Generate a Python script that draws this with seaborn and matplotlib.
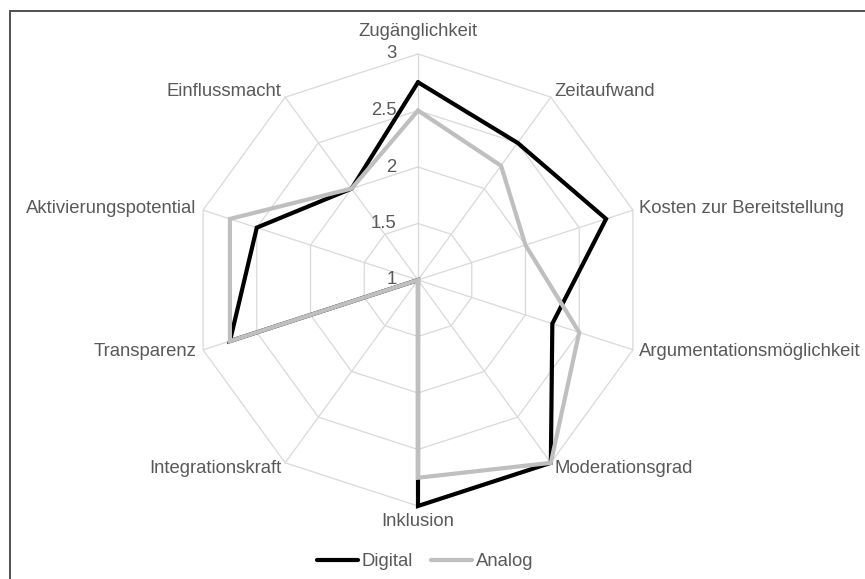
import matplotlib
matplotlib.use("Agg")
import matplotlib.pyplot as plt
from matplotlib.lines import Line2D
import numpy as np
import pandas as pd
import seaborn as sns

categories = ["Zugänglichkeit", "Zeitaufwand", "Kosten zur Bereitstellung",
              "Argumentationsmöglichkeit", "Moderationsgrad", "Inklusion",
              "Integrationskraft", "Transparenz", "Aktivierungspotential",
              "Einflussmacht"]
digital = [2.75, 2.5, 2.75, 2.25, 3.0, 3.0, 1.0, 2.75, 2.5, 2.0]
analog = [2.5, 2.25, 2.0, 2.5, 3.0, 2.75, 1.0, 2.75, 2.75, 2.0]
ring_ticks = [1, 1.5, 2, 2.5, 3]
ring_labels = ["1", "1.5", "2", "2.5", "3"]

TEXT = "#595959"
GRID = "#D9D9D9"
R_MIN = 1.0
FS = 13.3

n = len(categories)
theta = 2 * np.pi * np.arange(n) / n


def to_xy(vals):
    r = np.asarray(vals, dtype=float) - R_MIN
    return r * np.sin(theta), r * np.cos(theta)


# long table, polygon closed by repeating the first point
rows = []
for name, vals in [("Digital", digital), ("Analog", analog)]:
    x, y = to_xy(vals)
    for i in list(range(n)) + [0]:
        rows.append(dict(series=name, x=x[i], y=y[i]))
df = pd.DataFrame(rows)

sns.set_theme(style="white")
plt.rcParams["font.family"] = ["Liberation Sans", "DejaVu Sans"]

fig = plt.figure(figsize=(8.65, 5.79), dpi=100)
ax = fig.add_axes([0, 0, 1, 1])

# grid rings and spokes
rmax = max(ring_ticks) - R_MIN
for t in ring_ticks[1:]:
    gx, gy = to_xy([t] * n)
    ax.plot(np.append(gx, gx[0]), np.append(gy, gy[0]), color=GRID, lw=0.9, zorder=1)
ox, oy = to_xy([max(ring_ticks)] * n)
for i in range(n):
    ax.plot([0, ox[i]], [0, oy[i]], color=GRID, lw=0.9, zorder=1)

sns.lineplot(data=df, x="x", y="y", hue="series", sort=False, estimator=None,
             units="series", palette={"Digital": "black", "Analog": "#BFBFBF"},
             lw=3.0, solid_joinstyle="miter", ax=ax, zorder=3)

# ring value labels
for t, lab in zip(ring_ticks, ring_labels):
    ax.text(-0.19, t - R_MIN, lab, ha="right", va="center", fontsize=FS, color=TEXT, zorder=4)

# category labels
for i, cat in enumerate(categories):
    s, c = np.sin(theta[i]), np.cos(theta[i])
    if abs(s) < 1e-6:
        ha = "center"
        va = "bottom" if c > 0 else "top"
        rl = rmax + (0.12 if c > 0 else 0.06)
    else:
        ha = "left" if s > 0 else "right"
        va = "center"
        rl = rmax + 0.06
    ax.text(rl * s, rl * c, cat, ha=ha, va=va, fontsize=FS, color=TEXT)

px = 113.0
ax.set_xlim(-418 / px, (865 - 418) / px)
ax.set_ylim(-(579 - 280) / px, 280 / px)
ax.set_axis_off()

sns.move_legend(ax, "center", bbox_to_anchor=(425 / 865, 1 - 562 / 579), ncol=2,
                title=None, frameon=False, fontsize=FS, handlelength=2.2,
                handletextpad=0.2, columnspacing=1.0, labelcolor=TEXT)

# partial frame (top and left edges visible in the crop)
fig.add_artist(Line2D([10 / 865, 1], [1 - 11 / 579] * 2, transform=fig.transFigure,
                      color="#505050", lw=1.4))
fig.add_artist(Line2D([10 / 865] * 2, [0, 1 - 11 / 579], transform=fig.transFigure,
                      color="#505050", lw=1.4))

fig.savefig("out.png", dpi=100)
